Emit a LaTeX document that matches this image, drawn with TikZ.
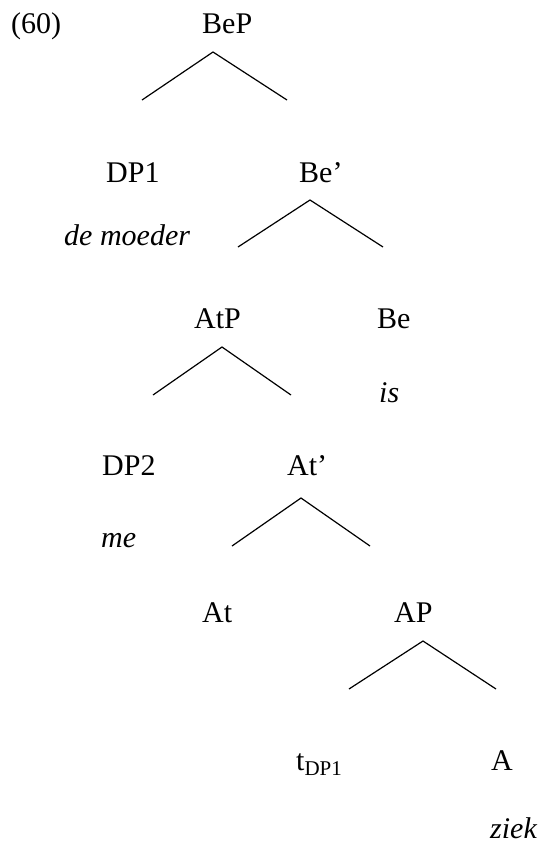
\documentclass[tikz,border=0pt]{standalone}
\usepackage{fontspec}
\setmainfont{Liberation Serif}
\usetikzlibrary{positioning}

\begin{document}
\begin{tikzpicture}[x=1pt, y=-1pt]
    \tikzstyle{word}=[anchor=base west, inner sep=0pt, font=\fontsize{30}{34}\selectfont]
    \tikzstyle{gloss}=[word, font=\fontsize{30}{34}\selectfont\itshape]
    \tikzstyle{branch}=[line width=1.2pt]
    \useasboundingbox (0,0) rectangle (545,849);

    \node[word] (num) at (11,33) {(60)};
    \node[word] (bep) at (202,33) {BeP};
    \node[word] (dp1) at (106,182) {DP1};
    \node[word] (bebar) at (299,182) {Be’};
    \node[gloss] (moeder) at (64,245) {de moeder};
    \node[word] (atp) at (194,328) {AtP};
    \node[word] (be) at (377,328) {Be};
    \node[gloss] (is) at (379,402) {is};
    \node[word] (dp2) at (102,475) {DP2};
    \node[word] (atbar) at (287,475) {At’};
    \node[gloss] (me) at (101,547) {me};
    \node[word] (at) at (202,622) {At};
    \node[word] (ap) at (394,622) {AP};
    \node[word] (trace) at (296,770) {t\textsubscript{DP1}};
    \node[word] (a) at (491,770) {A};
    \node[gloss] (ziek) at (490,838) {ziek};

    % branches
    \foreach \n/\ax/\ay/\lx/\rx/\by in {bep/213/52/142/287/100, bebar/310/200/238/383/247,
        atp/222/347/153/291/395, atbar/301/498/232/370/546, ap/423/641/349/496/689}{
        \coordinate (\n-top) at (\ax,\ay);
        \coordinate (\n-left) at (\lx,\by);
        \coordinate (\n-right) at (\rx,\by);
        \draw[branch] (\n-left) -- (\n-top) -- (\n-right);
    }

\end{tikzpicture}
\end{document}
